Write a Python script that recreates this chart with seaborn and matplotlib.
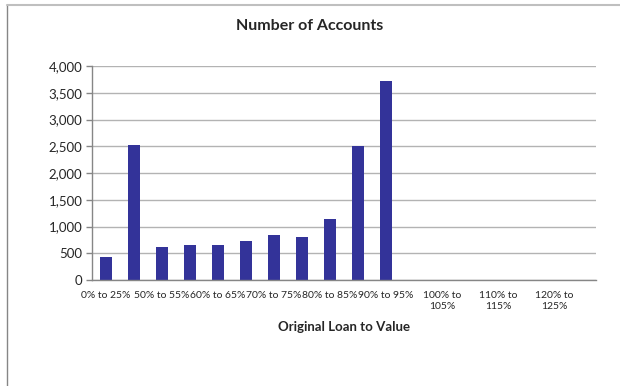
import matplotlib
matplotlib.use("Agg")
import matplotlib.pyplot as plt
from matplotlib.lines import Line2D
import seaborn as sns
import pandas as pd
import numpy as np

categories = ["0% to 25%", "25% to 50%", "50% to 55%", "55% to 60%", "60% to 65%",
              "65% to 70%", "70% to 75%", "75% to 80%", "80% to 85%", "85% to 90%",
              "90% to 95%", "95% to 100%", "100% to 105%", "105% to 110%",
              "110% to 115%", "115% to 120%", "120% to 125%", "Over 125%"]
accounts = [435, 2530, 610, 650, 660, 735, 850, 805, 1140, 2500, 3720,
            0, 0, 0, 0, 0, 0, 8]
tick_labels = ["0% to 25%", "", "50% to 55%", "", "60% to 65%", "", "70% to 75%", "",
               "80% to 85%", "", "90% to 95%", "", "100% to\n105%", "", "110% to\n115%",
               "", "120% to\n125%", ""]
y_ticks = [0, 500, 1000, 1500, 2000, 2500, 3000, 3500, 4000]

sns.set_style("white")
plt.rcParams["font.family"] = ["Lato", "DejaVu Sans"]

df = pd.DataFrame({"band": categories, "accounts": accounts})

fig = plt.figure(figsize=(6.2, 3.86), dpi=100)
ax = fig.add_axes([92 / 620, 1 - 280 / 386, 504 / 620, 214 / 386])

sns.barplot(data=df, x="band", y="accounts", order=categories, color="#333399",
            saturation=1, width=0.4, ax=ax, edgecolor="#333399", linewidth=0)

n = len(categories)
ax.set_xlim(-0.5, n - 0.5)
ax.set_ylim(0, 4000)
ax.set_yticks(y_ticks)
ax.set_yticklabels([f"{v:,}" for v in y_ticks], fontsize=9.5)
ax.yaxis.grid(True, color="#b3b3b3", linewidth=1)
ax.set_axisbelow(True)

# category boundary tick marks, labels at centres
ax.set_xticks(np.arange(-0.5, n, 1.0))
ax.set_xticklabels([""] * (n + 1))
ax.set_xticks(np.arange(n), minor=True)
ax.set_xticklabels(tick_labels, minor=True, fontsize=7.5, linespacing=1.3)
ax.tick_params(axis="x", which="major", direction="out", length=4, color="#868686", width=1)
ax.tick_params(axis="x", which="minor", length=0, pad=8)
ax.tick_params(axis="y", direction="out", length=4, color="#868686", width=1, pad=3, left=True)

for s in ["top", "right"]:
    ax.spines[s].set_visible(False)
for s in ["left", "bottom"]:
    ax.spines[s].set_color("#868686")
    ax.spines[s].set_linewidth(1)

ax.set_ylabel("")
ax.set_xlabel("Original Loan to Value", fontsize=9.5, fontweight="bold", labelpad=7)
fig.text(0.5, 1 - 26 / 386, "Number of Accounts", ha="center", va="center",
         fontsize=11.5, fontweight="bold")

# chart border
fig.add_artist(Line2D([6.5 / 620, 6.5 / 620], [0, 1 - 4.5 / 386], transform=fig.transFigure,
                      color="#868686", linewidth=1))
fig.add_artist(Line2D([6.5 / 620, 1], [1 - 4.5 / 386, 1 - 4.5 / 386], transform=fig.transFigure,
                      color="#bfbfbf", linewidth=1.5))

fig.savefig("out.png", dpi=100)
